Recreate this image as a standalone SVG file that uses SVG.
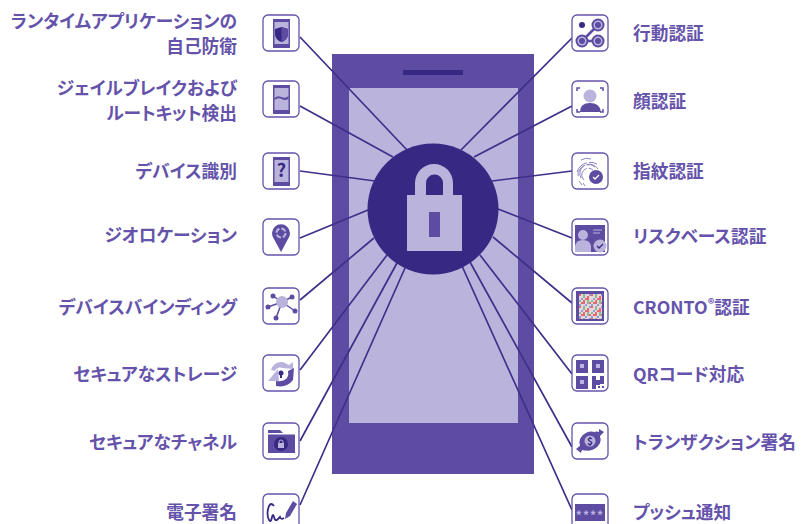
<svg xmlns="http://www.w3.org/2000/svg" width="801" height="524" viewBox="0 0 801 524">
<style>
text{font-family:"Noto Sans CJK JP","Noto Sans",sans-serif;font-weight:700;font-size:17.7px;fill:#6553ab;font-feature-settings:"palt"}
.l{text-anchor:end}
.box{fill:#fff;stroke:#6553ab;stroke-width:1.3}
.d{fill:#5d4ca2}.k{fill:#372883}.p{fill:#bab3dc}.w{fill:#fff}
.c{stroke:#3f2f8a;stroke-width:1.7;fill:none}
</style>
<defs><rect id="b" x="0" y="0" width="36" height="36" rx="5" class="box"/>
<pattern id="noise" width="12" height="12" patternUnits="userSpaceOnUse" x="579" y="294">
<rect width="12" height="12" fill="#ecd5d8"/>
<rect x="0" y="0" width="2" height="2" fill="#e26a72"/><rect x="4" y="0" width="2" height="4" fill="#7ec09a"/><rect x="8" y="2" width="2" height="2" fill="#e26a72"/><rect x="10" y="0" width="2" height="2" fill="#8aa0d8"/>
<rect x="2" y="4" width="2" height="2" fill="#8aa0d8"/><rect x="6" y="4" width="4" height="2" fill="#e26a72"/><rect x="0" y="6" width="2" height="2" fill="#7ec09a"/><rect x="4" y="6" width="2" height="2" fill="#e26a72"/>
<rect x="8" y="6" width="2" height="4" fill="#7ec09a"/><rect x="2" y="8" width="4" height="2" fill="#e26a72"/><rect x="10" y="8" width="2" height="2" fill="#e26a72"/><rect x="0" y="10" width="2" height="2" fill="#8aa0d8"/><rect x="6" y="10" width="2" height="2" fill="#8aa0d8"/>
</pattern></defs>
<g id="phone"><rect x="332" y="54" width="202" height="420" class="d"/><rect x="349" y="88" width="169" height="335" class="p"/><rect x="403" y="70" width="60" height="5" class="k"/></g>
<g id="connectors" class="c">
<path d="M300 37L407 150M300 106L393 157M300 171L375 181M300 238L368 210M300 300L374 238M300 370L387 255M300 441L397 263M300 505L405 268"/>
<path d="M572 38L461 150M572 106L474 157M572 171L492 181M572 238L498 209M572 303L493 237M572 374L480 255M572 447L470 262M572 510L462 266"/>
</g>
<g id="lock"><circle cx="433" cy="209" r="65.500" class="k"/><path class="p" d="M415 195V183a19 19 0 0 1 38 0V195H462V251H407V195ZM426 195H443V183a8.500 8.500 0 0 0-17 0Z" fill-rule="evenodd"/><rect x="429" y="212" width="11" height="25" class="d"/></g>
<g id="n1"><text class="l" x="237" y="28">ランタイムアプリケーションの</text><text class="l" x="237" y="53">自己防衛</text><use href="#b" x="263" y="15"/><rect x="273" y="19" width="17" height="29" class="d"/><rect x="274.500" y="22" width="14" height="22" class="p"/><path class="k" d="M281.500 27l6.500 2v5c0 4-3 7-6.500 8-3.500-1-6.500-4-6.500-8v-5z"/><path class="d" d="M281.500 27l6.500 2v5c0 4-3 7-6.500 8z"/></g>
<g id="n2"><text class="l" x="237" y="95">ジェイルブレイクおよび</text><text class="l" x="237" y="120">ルートキット検出</text><use href="#b" x="263" y="81"/><rect x="273" y="85" width="17" height="29" class="d"/><rect x="274.500" y="88" width="14" height="22" class="p"/><path class="d" d="M274.500 98q3-3 7-1t7-1v3q-4 2-7 0t-7 1z"/></g>
<g id="n3"><text class="l" x="237" y="178">デバイス識別</text><use href="#b" x="263" y="153"/><rect x="273" y="157" width="17" height="29" class="d"/><rect x="274.500" y="160" width="14" height="22" class="p"/><text x="281.500" y="177" text-anchor="middle" style="font-size:18px;fill:#372883">?</text></g>
<g id="n4"><text class="l" x="237" y="242">ジオロケーション</text><use href="#b" x="263" y="219"/><path class="d" d="M281 252l-7-13a9 9 0 1 1 14 0z"/><circle cx="281" cy="233" r="4.500" fill="none" stroke="#bab3dc" stroke-width="2" stroke-dasharray="5 2"/></g>
<g id="n5"><text class="l" x="237" y="314">デバイスバインディング</text><use href="#b" x="263" y="288"/><path d="M282 302L273 296M282 302L292 297M282 302L268 307M282 302L295 311M282 302L276 318" stroke="#5d4ca2" stroke-width="1.500"/><circle cx="282" cy="302" r="6" class="p"/><circle cx="273" cy="296" r="2.500" class="d"/><circle cx="292" cy="297" r="2.500" class="d"/><circle cx="268" cy="307" r="2.500" class="d"/><circle cx="295" cy="311" r="2.500" class="d"/><circle cx="276" cy="318" r="2.500" class="d"/></g>
<g id="n6"><text class="l" x="237" y="381">セキュアなストレージ</text><use href="#b" x="263" y="355"/><path class="p" d="M268 381l10-12 1 12zM271 370q3-9 12-8l6 3 4-3 0 7-10-1q-6-2-8 3z"/><path class="d" d="M294 368l-1 12q-6 8-17 6v-5q7 1 11-3 2-3 1-7z"/><circle cx="281" cy="373" r="2.500" class="k"/><rect x="280" y="374" width="2" height="4" class="k"/></g>
<g id="n7"><text class="l" x="237" y="449">セキュアなチャネル</text><use href="#b" x="263" y="423"/><path class="d" d="M268 430h12l4 4h11v19h-27z"/><rect x="268" y="433" width="27" height="1.500" fill="#fff"/><circle cx="281" cy="444" r="7" class="k"/><rect x="278" y="443" width="6" height="5" class="p"/><path d="M279 443v-1a2 2 0 0 1 4 0v1" fill="none" stroke="#bab3dc"/></g>
<g id="n8"><text class="l" x="237" y="519">電子署名</text><use href="#b" x="263" y="494"/><path d="M274 506q-3-4-5 0-3 8 0 14 2 3 3-3 1-4 2 0 1 4 3 3l3-3q1 3 4 1" fill="none" stroke="#372883" stroke-width="1.800"/><path class="d" d="M286 513l7-12 4 3-7 12-5 3z"/></g>
<g id="n9"><text x="633" y="40">行動認証</text><use href="#b" x="572" y="15"/><circle cx="582" cy="25" r="3" class="k"/><path d="M582 41L598 25M582 41H598" stroke="#5d4ca2" stroke-width="2.500"/><g class="d"><circle cx="598" cy="25" r="6.500"/><circle cx="582" cy="41" r="6.500"/><circle cx="598" cy="41" r="6.500"/></g><g class="p"><circle cx="598" cy="25" r="4.500"/><circle cx="582" cy="41" r="4.500"/><circle cx="598" cy="41" r="4.500"/></g><g class="d"><circle cx="598" cy="25" r="3"/><circle cx="582" cy="41" r="3"/><circle cx="598" cy="41" r="3"/></g></g>
<g id="n10"><text x="633" y="108">顔認証</text><use href="#b" x="572" y="81"/><circle cx="590" cy="96" r="6.500" class="p"/><path class="d" d="M580 112q0-9 10-9t11 9z"/><path d="M577 91v-3h3M600 88h3v3M577 109v3h3M603 109v3h-3" fill="none" stroke="#5d4ca2" stroke-width="1.500"/></g>
<g id="n11"><text x="633" y="178">指紋認証</text><use href="#b" x="572" y="153"/><g fill="none" stroke="#8f84c4" stroke-width="1" stroke-dasharray="14 2"><path d="M578 176a11 11 0 0 1 20-7"/><path d="M581 178a9 9 0 0 1 14-11"/><path d="M584 180a6.500 6.500 0 0 1 9-10"/><path d="M577 172a14 14 0 0 1 20-8"/><path d="M581 160a12 12 0 0 1 10-1"/><path d="M579 181l3 4M583 183l2 3"/></g><circle cx="596" cy="177" r="7" class="d"/><path d="M593 177l2 2 4-4" stroke="#fff" fill="none" stroke-width="1.300"/></g>
<g id="n12"><text x="633" y="243">リスクベース認証</text><use href="#b" x="572" y="219"/><rect x="575" y="225" width="30" height="27" class="d"/><circle cx="583" cy="235" r="5" class="p"/><path class="p" d="M575 252v-6q1-6 8-6t8 6v6z"/><path d="M593 230h9M593 233h7" stroke="#bab3dc"/><circle cx="600" cy="246" r="6.500" class="p"/><path d="M597 246l2 2 4-4" stroke="#372883" fill="none" stroke-width="1.300"/></g>
<g id="n13"><text x="633" y="314">CRONTO<tspan dy="-5" style="font-size:13px">®</tspan><tspan dy="5">認証</tspan></text><use href="#b" x="572" y="288"/><rect x="576" y="291" width="28" height="30" class="d"/><rect x="579" y="294" width="23" height="25" fill="url(#noise)"/></g>
<g id="n14"><text x="633" y="381">QRコード対応</text><use href="#b" x="572" y="355"/><g class="d"><path d="M576 360h12v13h-12zM592 360h12v13h-12zM576 376h12v13h-12z"/><path d="M592 376h4v4h4v-4h4v8h-4v1h-4v4h-4z"/></g><g class="p"><rect x="580" y="364" width="4" height="4"/><rect x="596" y="364" width="4" height="4"/><rect x="580" y="380" width="4" height="4"/></g><rect x="598" y="386" width="2" height="2" class="d"/><rect x="602" y="386" width="2" height="2" class="d"/></g>
<g id="n15"><text x="633" y="449">トランザクション署名</text><use href="#b" x="572" y="423"/><ellipse cx="590" cy="441" rx="11" ry="9" class="d" transform="rotate(-25 590 441)"/><circle cx="590" cy="441" r="5.500" class="p"/><path d="M576 449l5-4v2q6 0 9 3-3 1-8 0l-1 3zM604 432l-5 5v-2q-2-1-5-3 3-1 5 0v-3z" class="d"/><text x="590" y="445" text-anchor="middle" style="font-size:10px;fill:#372883">$</text></g>
<g id="n16"><text x="633" y="519">プッシュ通知</text><use href="#b" x="572" y="494"/><rect x="575" y="504" width="30" height="17" class="d"/><text x="590" y="520" text-anchor="middle" style="font-size:12px;fill:#bab3dc;letter-spacing:1px">****</text></g>
</svg>
